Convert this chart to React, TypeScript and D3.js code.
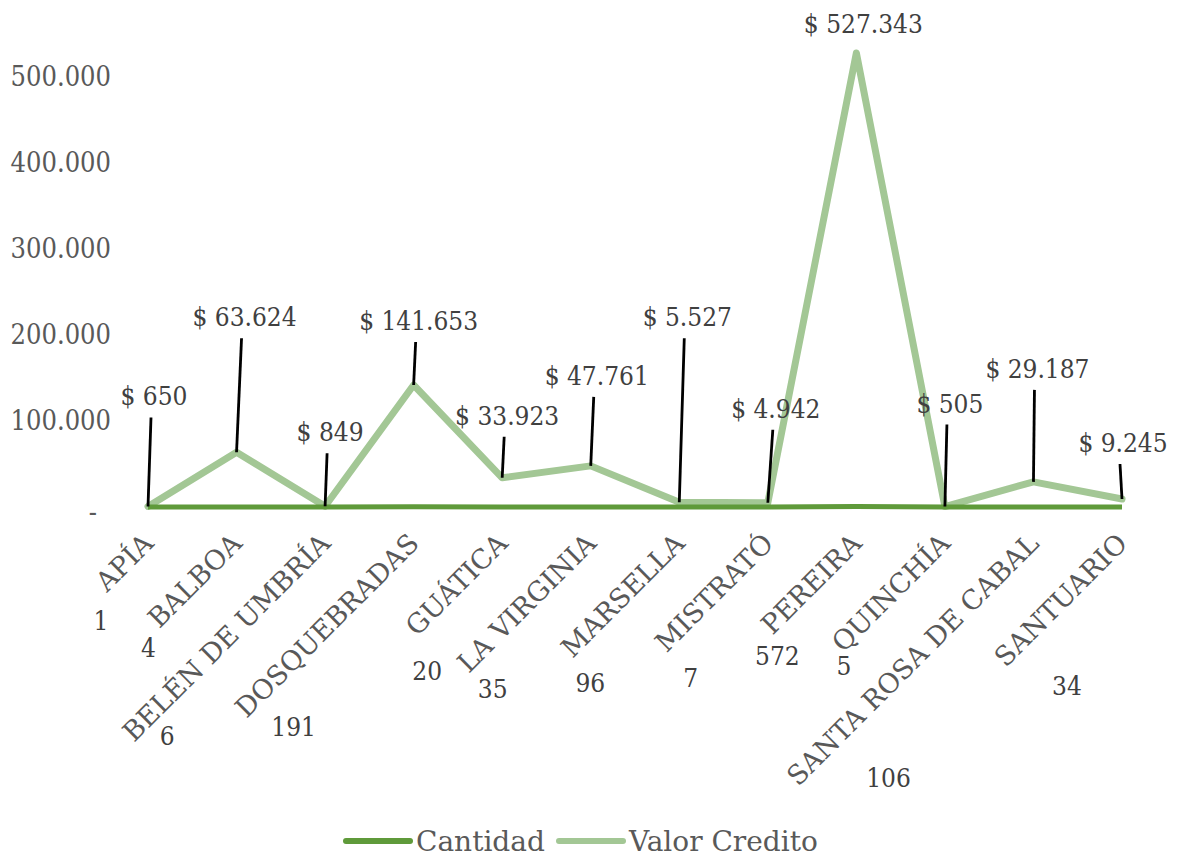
import React, { useEffect, useRef } from 'react';
import * as d3 from 'd3';

// Municipios y valores
const municipios = [
  'APÍA', 'BALBOA', 'BELÉN DE UMBRÍA', 'DOSQUEBRADAS', 'GUÁTICA', 'LA VIRGINIA',
  'MARSELLA', 'MISTRATÓ', 'PEREIRA', 'QUINCHÍA', 'SANTA ROSA DE CABAL', 'SANTUARIO',
];
const cantidad = [1, 4, 6, 191, 20, 35, 96, 7, 572, 5, 106, 34];
const valorCredito = [650, 63624, 849, 141653, 33923, 47761, 5527, 4942, 527343, 505, 29187, 9245];
const yTicks = [0, 100000, 200000, 300000, 400000, 500000];

// Posición manual de las etiquetas (desplazamiento desde el punto, en px)
const valorLabelOffset: [number, number][] = [
  [3, -89], [5, -114], [2, -53], [2, -43], [2, -41], [3, -69],
  [5, -164], [5, -73], [4, -8], [2, -82], [1, -92], [-2, -35],
];
const cantidadLabelOffset: [number, number][] = [
  [-47, 114], [-88, 141], [-158, 229], [-120, 220], [-75, 164], [-98, 182],
  [-89, 176], [-77, 171], [-79, 149], [-101, 159], [-145, 271], [-55, 179],
];

const FONT = "'DejaVu Serif Condensed', 'DejaVu Serif', serif";
const FONT_WIDE = "'DejaVu Serif', serif";
const DARK = '#5f9a3a';
const LIGHT = '#a3c795';

const es = d3.formatLocale({ decimal: ',', thousands: '.', grouping: [3], currency: ['$', ''] });
const fmt = es.format(',');

const App = () => {
  const svgRef = useRef<SVGSVGElement>(null);

  useEffect(() => {
    const width = 1179;
    const height = 859;

    d3.select(svgRef.current).selectAll('*').remove();

    const svg = d3.select(svgRef.current)
      .attr('width', width)
      .attr('height', height)
      .style('font-family', FONT);

    const x = d3.scalePoint<string>()
      .domain(municipios)
      .range([148, 1122]);

    const y = d3.scaleLinear()
      .domain([0, 500000])
      .range([507, 76.5]);

    const idx = d3.range(municipios.length);

    // Eje Y (solo etiquetas)
    svg.append('g')
      .selectAll('text')
      .data(yTicks)
      .enter()
      .append('text')
      .attr('x', d => (d === 0 ? 97 : 111))
      .attr('y', d => y(d))
      .attr('dy', d => (d === 0 ? '0.5em' : '0.35em'))
      .attr('text-anchor', 'end')
      .style('font-size', '27px')
      .style('fill', '#595959')
      .text(d => (d === 0 ? '-' : fmt(d)));

    // Etiquetas del eje X
    svg.append('g')
      .selectAll('text')
      .data(municipios)
      .enter()
      .append('text')
      .attr('transform', d => `translate(${x(d)! + 7},${545}) rotate(-45)`)
      .attr('text-anchor', 'end')
      .style('font-family', FONT_WIDE)
      .style('font-size', '27px')
      .style('fill', '#595959')
      .text(d => d);

    const line = d3.line<number>()
      .x((_, i) => x(municipios[i])!)
      .y(d => y(d));

    svg.append('path')
      .datum(valorCredito)
      .attr('d', line)
      .attr('fill', 'none')
      .attr('stroke', LIGHT)
      .attr('stroke-width', 7)
      .attr('stroke-linejoin', 'round')
      .attr('stroke-linecap', 'round');

    svg.append('path')
      .datum(cantidad)
      .attr('d', line)
      .attr('fill', 'none')
      .attr('stroke', DARK)
      .attr('stroke-width', 5);

    // Líneas guía de las etiquetas de valor (PEREIRA no tiene)
    svg.append('g')
      .selectAll('line')
      .data(idx.filter(i => i !== 8))
      .enter()
      .append('line')
      .attr('x1', i => x(municipios[i])!)
      .attr('y1', i => y(valorCredito[i]))
      .attr('x2', i => x(municipios[i])! + valorLabelOffset[i][0])
      .attr('y2', i => y(valorCredito[i]) + valorLabelOffset[i][1])
      .attr('stroke', '#000')
      .attr('stroke-width', 2.8);

    svg.append('g')
      .selectAll('text')
      .data(idx)
      .enter()
      .append('text')
      .attr('x', i => x(municipios[i])! + valorLabelOffset[i][0] + 3)
      .attr('y', i => y(valorCredito[i]) + valorLabelOffset[i][1] - 12)
      .attr('text-anchor', 'middle')
      .style('font-size', '26px')
      .style('fill', '#404040')
      .text(i => '$ ' + fmt(valorCredito[i]));

    svg.append('g')
      .selectAll('text')
      .data(idx)
      .enter()
      .append('text')
      .attr('x', i => x(municipios[i])! + cantidadLabelOffset[i][0])
      .attr('y', i => y(cantidad[i]) + cantidadLabelOffset[i][1])
      .attr('dy', '0.35em')
      .attr('text-anchor', 'middle')
      .style('font-size', '26px')
      .style('fill', '#404040')
      .text(i => cantidad[i]);

    // Leyenda
    const legend = [
      { name: 'Cantidad', color: DARK, x0: 346 },
      { name: 'Valor Credito', color: LIGHT, x0: 559 },
    ];
    const lg = svg.append('g').selectAll('g').data(legend).enter().append('g');
    lg.append('line')
      .attr('x1', d => d.x0)
      .attr('x2', d => d.x0 + 64)
      .attr('y1', 841)
      .attr('y2', 841)
      .attr('stroke', d => d.color)
      .attr('stroke-width', 6)
      .attr('stroke-linecap', 'round');
    lg.append('text')
      .attr('x', d => d.x0 + 70)
      .attr('y', 841)
      .attr('dy', '0.35em')
      .style('font-family', FONT_WIDE)
      .style('font-size', '28px')
      .style('fill', '#595959')
      .text(d => d.name);
  }, []);

  return (
    <div style={{ position: 'absolute', left: 0, top: 0 }}>
      <svg ref={svgRef}></svg>
    </div>
  );
};

export default App;
